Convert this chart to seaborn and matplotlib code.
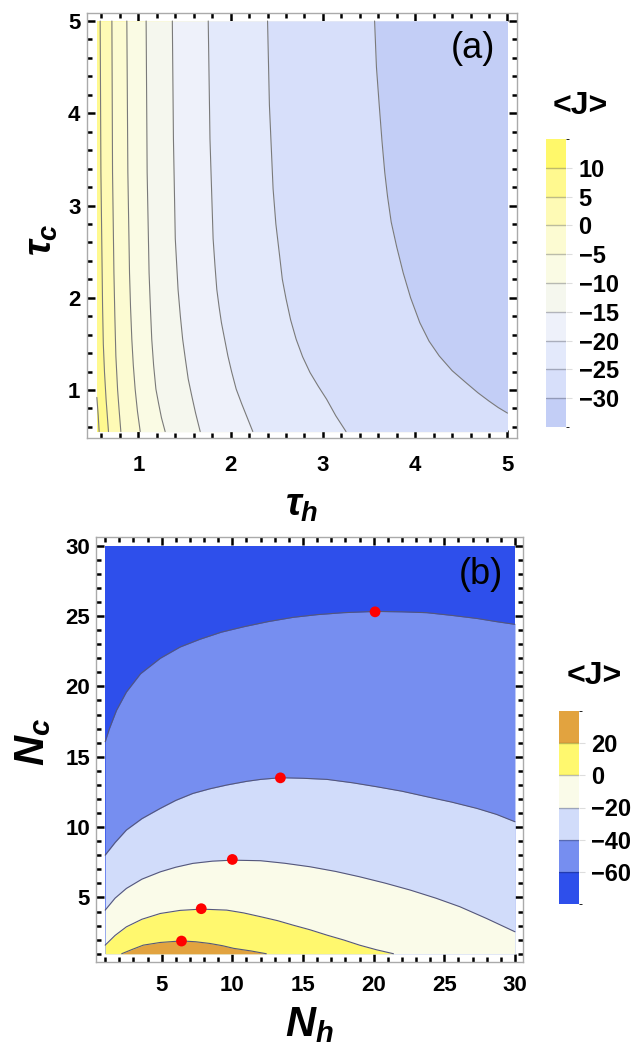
import numpy as np
import matplotlib as mpl
import matplotlib.pyplot as plt
from matplotlib.colors import ListedColormap, BoundaryNorm
from matplotlib.ticker import MultipleLocator
import seaborn as sns

sns.set_style('white')
plt.rcParams['font.family'] = ['Liberation Sans', 'DejaVu Sans']
plt.rcParams['mathtext.fontset'] = 'custom'
plt.rcParams['mathtext.it'] = 'Liberation Sans:bold:italic'
plt.rcParams['mathtext.rm'] = 'Liberation Sans:bold'
plt.rcParams['mathtext.bf'] = 'Liberation Sans:bold'
for key in ['text.color', 'axes.labelcolor', 'xtick.color', 'ytick.color']:
    plt.rcParams[key] = 'black'

th_p10 = [0.55, 0.565, 0.575]
tc_p10 = [0.92, 0.72, 0.55]
th_p5 = [0.586, 0.594, 0.612, 0.62, 0.633, 0.65, 0.676]
tc_p5 = [5.0, 3.36, 1.91, 1.5, 1.19, 0.9, 0.55]
th_0 = [0.713, 0.72, 0.735, 0.745, 0.756, 0.775, 0.79, 0.81]
tc_0 = [5.0, 3.36, 2.27, 1.8, 1.37, 1.0, 0.8, 0.55]
th_m5 = [0.875, 0.886, 0.904, 0.915, 0.929, 0.945, 0.965, 0.99, 1.02]
tc_m5 = [5.0, 3.36, 2.27, 1.9, 1.55, 1.27, 1.01, 0.77, 0.55]
th_m10 = [1.084, 1.095, 1.116, 1.13, 1.145, 1.165, 1.19, 1.22, 1.25, 1.29]
tc_m10 = [5.0, 3.36, 2.27, 1.9, 1.55, 1.27, 1.01, 0.85, 0.7, 0.55]
th_m15 = [1.368, 1.38, 1.40, 1.43, 1.455, 1.48, 1.51, 1.54, 1.58, 1.62, 1.67]
tc_m15 = [5.0, 3.72, 2.64, 2.09, 1.8, 1.55, 1.33, 1.12, 0.93, 0.75, 0.55]
th_m20 = [1.757, 1.776, 1.81, 1.83, 1.85, 1.875, 1.90, 1.935, 1.97, 2.01,
          2.06, 2.12, 2.18, 2.24]
tc_m20 = [5.0, 3.72, 2.64, 2.35, 2.09, 1.9, 1.73, 1.55, 1.37, 1.2,
          1.01, 0.85, 0.7, 0.55]
th_m25 = [2.40, 2.42, 2.46, 2.49, 2.53, 2.56, 2.60, 2.65, 2.71, 2.78,
          2.86, 2.95, 3.04, 3.14, 3.25]
tc_m25 = [5.0, 4.09, 3.18, 2.8, 2.46, 2.2, 1.99, 1.76, 1.55, 1.36,
          1.19, 1.04, 0.90, 0.72, 0.55]
th_m30 = [3.56, 3.58, 3.61, 3.64, 3.67, 3.70, 3.74, 3.80, 3.87, 3.95,
          4.05, 4.15, 4.26, 4.40, 4.55, 4.68, 4.80, 4.90, 5.0]
tc_m30 = [5.0, 4.5, 4.09, 3.7, 3.36, 3.1, 2.82, 2.55, 2.27, 2.0,
          1.73, 1.53, 1.37, 1.21, 1.08, 0.97, 0.88, 0.81, 0.75]

levels_a = ['10', '5', '0', '\u22125', '\u221210', '\u221215', '\u221220', '\u221225', '\u221230']
# band colours, from highest (>10) to lowest (<-30)
colors_a = ['#FFF86A', '#FFF98F', '#FEFAB5', '#FCFBD2', '#FAFBE4',
            '#F5F7EE', '#EEF1FA', '#E3E9FB', '#D7DFFA', '#C3CEF6']

nh_m60 = [1.0, 1.3, 1.8, 2.5, 3.5, 4.9, 6.3, 7.7, 9.2, 10.8, 12.5, 14.3,
          16.0, 17.85, 20.1, 22.0, 23.75, 25.5, 27.3, 28.7, 30.0]
nc_m60 = [16.07, 17.0, 18.3, 19.6, 20.9, 22.0, 22.8, 23.35, 23.85, 24.24, 24.6, 24.91,
          25.1, 25.24, 25.33, 25.3, 25.24, 25.05, 24.83, 24.6, 24.41]
nh_m40 = [1.0, 1.7, 2.5, 3.6, 4.9, 6.0, 7.2, 8.4, 9.6, 11.0, 12.0, 13.4,
          15.0, 16.7, 18.5, 20.2, 22.0, 23.75, 25.5, 27.3, 28.7, 30.0]
nc_m40 = [8.01, 8.9, 9.79, 10.6, 11.33, 11.9, 12.39, 12.72, 12.99, 13.25, 13.39, 13.51,
          13.47, 13.39, 13.15, 12.87, 12.55, 12.16, 11.78, 11.33, 10.9, 10.38]
nh_m20 = [1.0, 1.7, 2.5, 3.6, 4.9, 6.0, 7.2, 8.6, 10.0, 12.0, 13.7, 15.5,
          17.3, 19.0, 20.8, 22.6, 24.4, 26.1, 28.0, 30.0]
nc_m20 = [4.10, 4.95, 5.64, 6.3, 6.82, 7.15, 7.42, 7.58, 7.65, 7.61, 7.43, 7.18,
          6.85, 6.47, 6.02, 5.52, 4.95, 4.34, 3.5, 2.56]
nh_0 = [1.0, 1.7, 2.5, 3.6, 4.9, 6.3, 7.8, 9.6, 10.8, 12.0, 13.2, 14.3,
        15.5, 16.7, 17.9, 19.0, 20.2, 21.4]
nc_0 = [1.61, 2.3, 2.91, 3.45, 3.86, 4.08, 4.17, 4.10, 3.9, 3.63, 3.35, 3.03,
        2.7, 2.32, 1.97, 1.61, 1.28, 1.0]
nh_p20 = [2.17, 2.9, 3.7, 4.9, 6.4, 7.4, 8.4, 9.3, 10.1, 11.3, 12.4]
nc_p20 = [1.0, 1.3, 1.61, 1.80, 1.91, 1.85, 1.73, 1.57, 1.38, 1.2, 1.0]

# optimum points (red dots)
opt_nh = [6.4, 7.8, 10.0, 13.4, 20.1]
opt_nc = [1.9, 4.2, 7.7, 13.5, 25.3]

levels_b = ['20', '0', '\u221220', '\u221240', '\u221260']
colors_b = ['#E2A33F', '#FFF86E', '#FAFBE9', '#D1DCFA', '#768EF0', '#2E4FEB']

W, H = 636, 1054
fig = plt.figure(figsize=(W / 100, H / 100), dpi=100)


def px_axes(x0, y0, x1, y1):
    return fig.add_axes([x0 / W, 1 - y1 / H, (x1 - x0) / W, (y1 - y0) / H])


def frame_style(ax, major, minor):
    ax.xaxis.set_major_locator(MultipleLocator(major))
    ax.yaxis.set_major_locator(MultipleLocator(major))
    ax.xaxis.set_minor_locator(MultipleLocator(minor))
    ax.yaxis.set_minor_locator(MultipleLocator(minor))
    ax.tick_params(which='both', direction='in', top=True, right=True,
                   bottom=True, left=True, color='black', width=1.8)
    ax.tick_params(which='major', length=6, labelsize=16)
    ax.tick_params(which='minor', length=3.5)
    for lbl in ax.get_xticklabels() + ax.get_yticklabels():
        lbl.set_fontweight('bold')
    for sp in ax.spines.values():
        sp.set_color('#AAAAAA')
        sp.set_linewidth(1.0)
    ax.patch.set_alpha(0)


def bar_legend(cax, colors, labels, tx, ty):
    n = len(colors)
    cmap = ListedColormap(colors[::-1])
    norm = BoundaryNorm(np.arange(n + 1), n)
    cb = mpl.colorbar.ColorbarBase(cax, cmap=cmap, norm=norm,
                                   ticks=np.arange(1, n))
    cb.set_ticklabels(labels[::-1])
    cb.outline.set_visible(False)
    cax.tick_params(length=4, width=0.8, color='#DDDDDD', labelsize=17, pad=5)
    for lbl in cax.get_yticklabels():
        lbl.set_fontweight('bold')
    for k in range(1, n):
        cax.axhline(k, color=(0, 0, 0, 0.25), lw=1.0)
    fig.text(tx / W, 1 - ty / H, '<J>', fontsize=23, fontweight='bold',
             ha='center', va='center')


# ---------------- panel (a)
ax1 = px_axes(86.7, 12.7, 516.7, 438)
lines_a = [(th_p5, tc_p5), (th_0, tc_0), (th_m5, tc_m5), (th_m10, tc_m10),
           (th_m15, tc_m15), (th_m20, tc_m20), (th_m25, tc_m25), (th_m30, tc_m30)]
ax1.fill_between([0.55, 5.0], 0.55, 5.0, color=colors_a[1], lw=0)
ax1.fill_betweenx(tc_p10, 0.55, th_p10, color=colors_a[0], lw=0)
for (th, tc), col in zip(lines_a, colors_a[2:]):
    ax1.fill_betweenx(tc, th, 5.0, color=col, lw=0)
for th, tc in [(th_p10, tc_p10)] + lines_a:
    sns.lineplot(x=th, y=tc, sort=False, estimator=None, color='#7A7A7A',
                 lw=0.8, ax=ax1)
ax1.set_xlim(0.44, 5.1)
ax1.set_ylim(0.48, 5.09)
frame_style(ax1, 1, 0.2)
ax1.tick_params(axis='x', which='major', pad=12)
ax1.tick_params(axis='y', which='major', pad=4.5)
ax1.set_xlabel(r'$\tau_h$', fontsize=28)
ax1.set_ylabel(r'$\tau_c$', fontsize=28)
ax1.xaxis.set_label_coords(0.5, -0.118)
ax1.yaxis.set_label_coords(-0.063, 0.466)
fig.text(473 / W, 1 - 48 / H, '(a)', fontsize=26, ha='center', va='center')

cax1 = px_axes(546, 139, 566, 427)
bar_legend(cax1, colors_a, levels_a, 580, 106)

# ---------------- panel (b)
ax2 = px_axes(96, 536.7, 523.3, 962.3)
lines_b = [(nh_m60, nc_m60), (nh_m40, nc_m40), (nh_m20, nc_m20),
           (nh_0, nc_0), (nh_p20, nc_p20)]
ax2.fill_between([1.0, 30.0], 1.0, 30.0, color=colors_b[-1], lw=0)
for (nh, nc), col in zip(lines_b, colors_b[-2::-1]):
    ax2.fill_between(nh, 1.0, nc, color=col, lw=0)
for nh, nc in lines_b:
    sns.lineplot(x=nh, y=nc, sort=False, estimator=None, color='#55577A',
                 lw=0.8, ax=ax2)
sns.scatterplot(x=opt_nh, y=opt_nc, color='#FF0000', s=60, edgecolor='none',
                ax=ax2, zorder=5)
ax2.set_xlim(0.35, 30.59)
ax2.set_ylim(0.39, 30.64)
frame_style(ax2, 5, 1)
ax2.tick_params(axis='x', which='major', pad=9)
ax2.tick_params(axis='y', which='major', pad=4.3)
ax2.set_xlabel(r'$N_h$', fontsize=30)
ax2.set_ylabel(r'$N_c$', fontsize=30)
ax2.xaxis.set_label_coords(0.5, -0.1)
ax2.yaxis.set_label_coords(-0.1, 0.518)
fig.text(481 / W, 1 - 575 / H, '(b)', fontsize=26, ha='center', va='center')

cax2 = px_axes(559, 711, 579, 904)
bar_legend(cax2, colors_b, levels_b, 594, 676)

fig.savefig('out.png', dpi=100)
